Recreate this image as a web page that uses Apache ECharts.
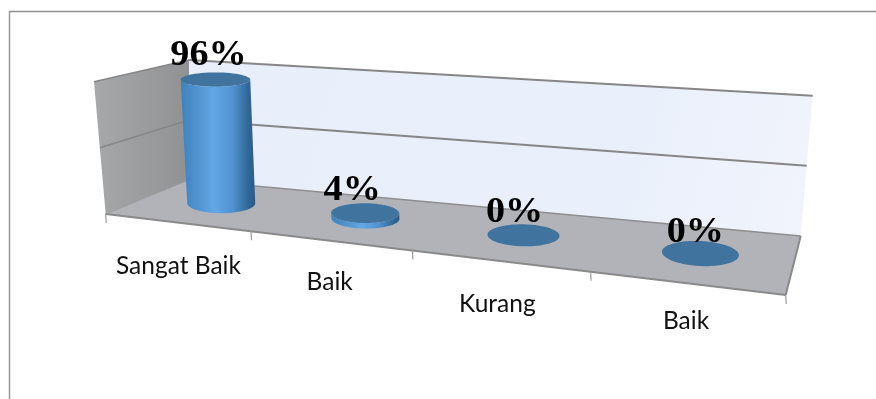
<!DOCTYPE html>
<html><head><meta charset="utf-8">
<script src="https://cdn.jsdelivr.net/npm/echarts@6/dist/echarts.min.js"></script>
<style>html,body{margin:0;padding:0;background:#fff}#c{width:876px;height:399px}</style>
</head><body><div id="c"></div>
<script>
const categories = ['Sangat Baik', 'Baik', 'Kurang', 'Baik '];
const percentValues = [96, 4, 0, 0];
const gridValues = [50, 100];
const tickPositions = [0, 1, 2, 3, 4];

// layout only: projected plane corners (front-left, front-right, back-right, back-left)
const floorQuad = [[105.7,214],[785.7,295],[800.7,236],[189,180]];
const ceilQuad  = [[94,81.7],[772.5,141],[812.7,95.7],[189,60]];
const valueNudge = [[-7,-24],[-13,-22],[-9,-23],[-5,-21]];
const catNudge = [[2,44],[0,41],[-2,43],[0,38]];
const capRadius = [[34,10],[34,10],[36,11],[38.5,12.5]];
const capTilt = [0,0.01,0.02,0.05];
const barShift = [3,0,-3,-1];
const barLean = -6;

function homography(q){
  const [[x0,y0],[x1,y1],[x2,y2],[x3,y3]] = q;
  const dx1=x1-x2, dx2=x3-x2, sx=x0-x1+x2-x3, dy1=y1-y2, dy2=y3-y2, sy=y0-y1+y2-y3;
  const d=dx1*dy2-dx2*dy1;
  const g=(sx*dy2-dx2*sy)/d, h=(dx1*sy-sx*dy1)/d;
  const a=x1-x0+g*x1, b=x3-x0+h*x3, c=x0, e=y1-y0+g*y1, f=y3-y0+h*y3, k=y0;
  return (u,w)=>{const z=g*u+h*w+1;return [(a*u+b*w+c)/z,(e*u+f*w+k)/z];};
}
const floorH = homography(floorQuad), ceilH = homography(ceilQuad);
const warp = u => u + 0.175*u*(1-u);
// u: across, w: depth (0 front .. 1 back), t: height fraction of the value axis
function project(u,w,t){
  const uu=warp(u), p=floorH(uu,w), q=ceilH(uu,w);
  return [p[0]+(q[0]-p[0])*t, p[1]+(q[1]-p[1])*t];
}
function uvw(params,api,cat,val){
  const c=api.coord([cat,val]), s=params.coordSys;
  return {u:(c[0]-s.x)/s.width, t:(s.y+s.height-c[1])/s.height};
}
const poly=(pts,style)=>({type:'polygon',shape:{points:pts},style});
const line=(a,b,stroke,lineWidth)=>({type:'line',shape:{x1:a[0],y1:a[1],x2:b[0],y2:b[1]},style:{stroke,lineWidth}});
const grad=(x0,y0,x1,y1,stops)=>new echarts.graphic.LinearGradient(x0,y0,x1,y1,stops.map(c=>({offset:c[0],color:c[1]})));

function renderWalls(){
  const fl=[[0,0],[1,0],[1,1],[0,1]].map(p=>project(p[0],p[1],0));
  return {type:'group',children:[
    poly([project(0,1,0),project(1,1,0),project(1,1,1),project(0,1,1)],{fill:grad(0,0,1,1,[[0,'#e8eefa'],[0.7,'#eaf0fb'],[1,'#f1f4fc']])}),
    poly([project(0,0,0),project(0,1,0),project(0,1,1),project(0,0,1)],{fill:grad(0,0,1,0,[[0,'#a6a8aa'],[1,'#8f9193']])}),
    poly(fl,{fill:'#b1b3b9'}),
    line(fl[3],fl[2],'#8e8e8e',1.5),
    line(fl[3],fl[0],'#9a9a9a',1),
    line(fl[0],fl[1],'#8a8a8a',2),
    line(fl[1],fl[2],'#8a8a8a',2)
  ]};
}
function renderGridline(params,api){
  const t=uvw(params,api,0,api.value(1)).t;
  const a=project(0,0,t),b=project(0,1,t),c=project(1,1,t);
  return {type:'group',children:[line(a,b,'#868686',1.6),line(b,c,'#868686',2)]};
}
function renderTick(params,api){
  const u=api.value(0)/4;
  const p=project(u,0,0);
  return line([p[0],p[1]],[p[0]+0.5,p[1]+9],'#9a9a9a',1.2);
}
const WC=0.5;
function ellipse(c,r,tilt,from,to,n){
  const out=[];
  for(let k=0;k<=n;k++){
    const a=from+(to-from)*k/n, x=r[0]*Math.cos(a), y=r[1]*Math.sin(a);
    out.push([c[0]+x*Math.cos(tilt)-y*Math.sin(tilt), c[1]+x*Math.sin(tilt)+y*Math.cos(tilt)]);
  }
  return out;
}
function barCentres(params,api,i,v){
  const m=uvw(params,api,i,v);
  const b=project(m.u,WC,0), c=project(m.u,WC,m.t);
  const bx=b[0]+barShift[i];
  return {t:m.t, base:[bx,b[1]], top:[bx+barLean*m.t,c[1]]};
}
function renderBar(params,api){
  const i=api.value(0), v=api.value(1);
  const g=barCentres(params,api,i,v), t=g.t, r=capRadius[i], tilt=capTilt[i];
  const topR=[r[0]+0.8*t, r[1]*(1-0.3*t)];
  const kids=[];
  if(t>0){
    const base=ellipse(g.base,r,tilt,Math.PI,0,40);
    const top=ellipse(g.top,topR,tilt,0,Math.PI,40);
    kids.push(poly(base.concat(top),{fill:grad(0,0,1,0,[[0,'#3f80ba'],[0.45,'#62a8e6'],[0.7,'#4f92cf'],[0.92,'#2f6593'],[1,'#2a5a85']])}));
  }
  kids.push(poly(ellipse(g.top,topR,tilt,0,2*Math.PI,60),{fill:'#41739f'}));
  return {type:'group',children:kids};
}
function renderValue(params,api){
  const i=api.value(0), v=api.value(1);
  const p=barCentres(params,api,i,v).top, n=valueNudge[i];
  return {type:'text',x:p[0]+n[0],y:p[1]+n[1],scaleX:1.06,style:{text:v+'%',x:0,y:0,align:'center',verticalAlign:'middle',fontFamily:'Liberation Serif',fontWeight:'bold',fontSize:36,fill:'#000'}};
}
function renderCat(params,api){
  const i=api.value(0);
  const m=uvw(params,api,i,0), p=project(m.u,0,0), n=catNudge[i];
  return {type:'text',style:{text:categories[i].trim(),x:p[0]+n[0],y:p[1]+n[1],align:'center',verticalAlign:'middle',fontFamily:'Lato',fontSize:24.5,fill:'#111'}};
}
const barData=percentValues.map((v,i)=>[i,v]);
const base={type:'custom',silent:true,clip:false,animation:false};
const chart=echarts.init(document.getElementById('c'),null,{renderer:'canvas'});
chart.setOption({
  animation:false,backgroundColor:'#fff',
  grid:{left:100,right:100,top:60,bottom:100},
  xAxis:{type:'category',data:categories,show:false},
  yAxis:{type:'value',min:0,max:100,interval:50,show:false},
  graphic:[
    {type:'line',z:1,silent:true,shape:{x1:9,y1:11.5,x2:876,y2:11.5},style:{stroke:'#8f8f8f',lineWidth:1.5}},
    {type:'line',z:1,silent:true,shape:{x1:9.5,y1:11,x2:9.5,y2:399},style:{stroke:'#9a9a9a',lineWidth:1.5}}
  ],
  series:[
    Object.assign({},base,{z:2,data:[[0,0]],renderItem:renderWalls}),
    Object.assign({},base,{z:3,data:gridValues.map(v=>[0,v]),renderItem:renderGridline}),
    Object.assign({},base,{z:3,data:tickPositions.map(v=>[v,0]),encode:{x:0,y:1},renderItem:renderTick}),
    Object.assign({},base,{z:4,data:barData,renderItem:renderBar}),
    Object.assign({},base,{z:5,data:barData,renderItem:renderValue}),
    Object.assign({},base,{z:5,data:barData,renderItem:renderCat})
  ]
});
</script></body></html>
